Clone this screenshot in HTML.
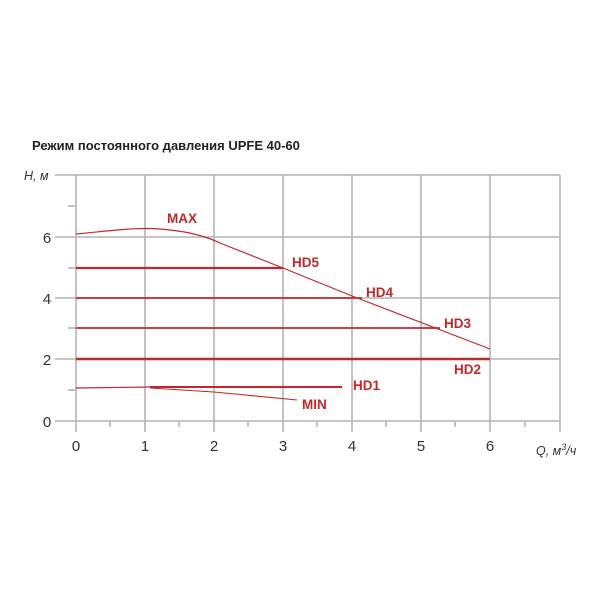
<!DOCTYPE html>
<html><head><meta charset="utf-8"><style>
html,body{margin:0;padding:0;background:#fff;width:600px;height:600px;overflow:hidden}
svg text{font-family:"Liberation Sans","DejaVu Sans",sans-serif}
</style></head><body>
<svg width="600" height="600" viewBox="0 0 600 600" xmlns="http://www.w3.org/2000/svg">
<text x="32" y="150" font-size="13" font-weight="bold" fill="#222">Режим постоянного давления UPFE 40-60</text>
<g stroke="#b4b4b4" stroke-width="1.6" fill="none">
<line x1="55" y1="175" x2="560" y2="175"/>
<line x1="55" y1="237" x2="560" y2="237"/>
<line x1="55" y1="298" x2="560" y2="298"/>
<line x1="55" y1="359" x2="560" y2="359"/>
<line x1="55" y1="421" x2="560" y2="421"/>
<line x1="76" y1="175" x2="76" y2="432"/>
<line x1="145" y1="175" x2="145" y2="432"/>
<line x1="214" y1="175" x2="214" y2="432"/>
<line x1="283" y1="175" x2="283" y2="432"/>
<line x1="352" y1="175" x2="352" y2="432"/>
<line x1="421" y1="175" x2="421" y2="432"/>
<line x1="490" y1="175" x2="490" y2="432"/>
<line x1="560" y1="175" x2="560" y2="432"/>
<line x1="68" y1="206" x2="76" y2="206"/>
<line x1="68" y1="268" x2="76" y2="268"/>
<line x1="68" y1="328" x2="76" y2="328"/>
<line x1="68" y1="390" x2="76" y2="390"/>
<line x1="110" y1="421" x2="110" y2="427"/>
<line x1="179" y1="421" x2="179" y2="427"/>
<line x1="248" y1="421" x2="248" y2="427"/>
<line x1="317" y1="421" x2="317" y2="427"/>
<line x1="386" y1="421" x2="386" y2="427"/>
<line x1="455" y1="421" x2="455" y2="427"/>
<line x1="525" y1="421" x2="525" y2="427"/>
</g>
<g font-size="15" fill="#333" text-anchor="middle">
<text x="76" y="451">0</text><text x="145" y="451">1</text><text x="214" y="451">2</text>
<text x="283" y="451">3</text><text x="352" y="451">4</text><text x="421" y="451">5</text><text x="490" y="451">6</text>
<text x="47" y="427">0</text><text x="47" y="365">2</text><text x="47" y="304">4</text><text x="47" y="243">6</text>
</g>
<text x="24" y="180" font-size="12.5" font-style="italic" fill="#333">H, м</text>
<text x="536" y="455" font-size="12.5" font-style="italic" fill="#333">Q, м<tspan dy="-5" font-size="9">3</tspan><tspan dy="5">/ч</tspan></text>
<g stroke="#c0282d" fill="none">
<path d="M76,234 C110,231 140,226 170,230 C190,232 205,236 220,243 L283,268 L352,296 L490,349" stroke-width="1.2"/>
<line x1="76" y1="268" x2="283" y2="268" stroke-width="2.2"/>
<line x1="76" y1="298" x2="362" y2="298" stroke-width="1.8"/>
<line x1="76" y1="328" x2="440" y2="328" stroke-width="1.8"/>
<line x1="76" y1="359" x2="490" y2="359" stroke-width="2.4"/>
<line x1="76" y1="388" x2="150" y2="387" stroke-width="1.2"/>
<line x1="150" y1="387" x2="342" y2="387" stroke-width="2"/>
<path d="M150,388 L214,392 L297,400" stroke-width="1.1"/>
</g>
<g font-size="13.5" font-weight="bold" fill="#c0282d">
<text x="167" y="223">MAX</text>
<text x="292" y="267">HD5</text>
<text x="366" y="297">HD4</text>
<text x="444" y="328">HD3</text>
<text x="454" y="374">HD2</text>
<text x="353" y="390">HD1</text>
<text x="302" y="409">MIN</text>
</g>
</svg>
</body></html>
